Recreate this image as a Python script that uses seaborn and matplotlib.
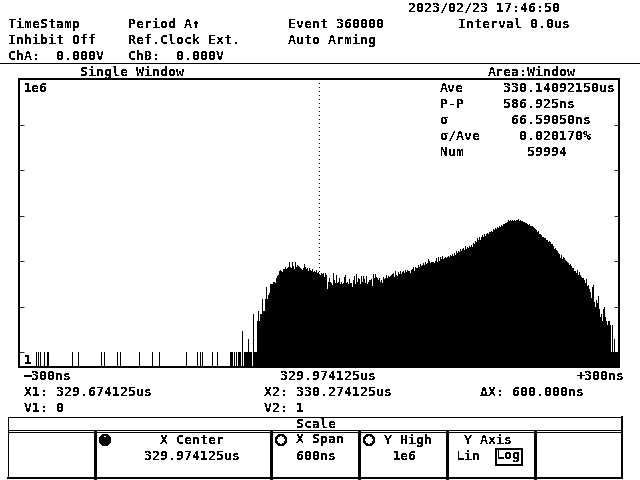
import numpy as np
import pandas as pd
import seaborn as sns
import matplotlib
matplotlib.use("Agg")
import matplotlib.pyplot as plt
from matplotlib.patches import Circle, Rectangle

# ------ histogram data, 1 ns bins, ns relative to the X center ------

sparse_ns = [-283, -281, -279, -275, -272, -271, -247, -241, -218, -215, -202, -199,
             -180, -167, -160, -133, -122, -119, -117, -107, -102, -89, -88, -87,
             -85, -83, -81, -80, -79, -77, -75, -74, -73, -72, -71, -70, -69, -68,
             -66, -65, -64, -63]
sparse_counts = [1, 1, 1, 1, 1, 1, 1, 1, 1, 1, 1, 1,
                 1, 1, 1, 1, 1, 1, 1, 1, 1, 1, 1, 1,
                 1, 1, 1, 1, 1, 3, 1, 1, 1, 1, 2, 1, 1, 1,
                 7, 1, 1, 1]

main_start_ns = -62
main_counts = [
    5, 8, 5, 7, 7, 15, 8, 8, 15, 27,
    15, 18, 20, 31, 31, 31, 36, 36, 33, 44,
    47, 50, 62, 65, 62, 58, 69, 69, 76, 69,
    72, 76, 98, 76, 72, 98, 80, 69, 98, 76,
    85, 80, 76, 72, 69, 65, 72, 89, 76, 69,
    72, 62, 72, 65, 62, 69, 58, 62, 58, 65,
    56, 58, 53, 50, 56, 53, 56, 46, 56, 50,
    25, 36, 42, 36, 33, 30, 56, 38, 33, 50,
    34, 36, 42, 32, 36, 31, 34, 46, 50, 33,
    36, 31, 40, 33, 34, 28, 38, 48, 32, 53,
    36, 44, 40, 31, 47, 36, 47, 40, 33, 47,
    32, 36, 38, 38, 40, 29, 53, 44, 53, 45,
    42, 38, 44, 36, 38, 34, 46, 40, 42, 50,
    44, 47, 46, 48, 50, 53, 56, 46, 62, 50,
    48, 58, 52, 62, 53, 58, 62, 55, 66, 58,
    65, 60, 62, 56, 66, 69, 76, 62, 74, 70,
    72, 85, 76, 89, 78, 84, 92, 85, 98, 89,
    92, 110, 100, 90, 98, 98, 96, 92, 100, 120,
    96, 125, 104, 125, 110, 128, 110, 118, 122, 116,
    122, 128, 126, 140, 132, 148, 134, 156, 140, 165,
    150, 172, 158, 190, 170, 185, 200, 180, 212, 190,
    205, 195, 215, 210, 225, 205, 255, 235, 280, 260,
    327, 290, 340, 300, 350, 380, 345, 390, 360, 395,
    410, 400, 440, 430, 470, 450, 515, 480, 540, 520,
    565, 545, 600, 580, 640, 610, 670, 650, 700, 680,
    740, 810, 760, 790, 780, 800, 770, 810, 780, 820,
    790, 850, 780, 810, 760, 780, 720, 730, 690, 680,
    660, 640, 650, 610, 590, 600, 560, 540, 510, 490,
    450, 460, 400, 390, 370, 350, 340, 320, 330, 290,
    300, 270, 280, 260, 240, 245, 220, 190, 200, 175,
    165, 155, 148, 120, 135, 115, 125, 118, 105, 100,
    96, 90, 85, 88, 80, 72, 70, 60, 62, 56,
    64, 50, 58, 50, 46, 43, 44, 38, 34, 40,
    29, 30, 25, 21, 16, 28, 30, 13, 10, 14,
    12, 17, 9, 6, 7, 5, 9, 10, 6, 5,
    4, 5, 5, 4, 1, 4, 1, 2, 1, 1, 1, 2,
]

y_ticks = [1, 10, 100, 1000, 10000, 100000, 1000000]

# ------ screen texts ------

header = [
    ("2023/02/23 17:46:50", 408, 7), ("TimeStamp", 8, 23), ("Period A↑", 128, 23),
    ("Event 360000", 288, 23), ("Interval 0.0us", 458, 23),
    ("Inhibit Off", 8, 39), ("Ref.Clock Ext.", 128, 39), ("Auto Arming", 288, 39),
    ("ChA:  0.000V", 8, 55), ("ChB:  0.000V", 128, 55),
    ("Single Window", 80, 71), ("Area:Window", 488, 71),
]
stats = [
    ("1e6", 24, 87), ("1", 24, 359),
    ("Ave", 440, 87), ("330.14092150us", 503, 87),
    ("P-P", 440, 103), ("586.925ns", 503, 103),
    ("σ", 440, 119), ("66.59050ns", 511, 119),
    ("σ/Ave", 440, 135), ("0.020170%", 519, 135),
    ("Num", 440, 151), ("59994", 527, 151),
]
footer = [
    ("−300ns", 24, 375), ("329.974125us", 280, 375), ("+300ns", 577, 375),
    ("X1: 329.674125us", 24, 391), ("X2: 330.274125us", 264, 391), ("ΔX: 600.000ns", 480, 391),
    ("V1: 0", 24, 407), ("V2: 1", 264, 407),
    ("Scale", 296, 424),
    ("X Center", 160, 439), ("329.974125us", 144, 455),
    ("X Span", 296, 439), ("600ns", 296, 455),
    ("Y High", 384, 439), ("1e6", 393, 455),
    ("Y Axis", 464, 439), ("Lin", 456, 455), ("Log", 497, 455),
]

sns.set_style("white")
plt.rcParams["font.family"] = ["DejaVu Sans Mono"]
plt.rcParams["text.antialiased"] = False
plt.rcParams["lines.antialiased"] = False
plt.rcParams["patch.antialiased"] = False

df = pd.DataFrame({
    "ns": np.concatenate([sparse_ns, main_start_ns + np.arange(len(main_counts))]) + 0.5,
    "n": np.concatenate([sparse_counts, main_counts]),
})

fig = plt.figure(figsize=(6.4, 4.8), dpi=100, facecolor="white")
px = 72 / 100  # one screen pixel in points

# plot window, 19..619 across and 79..367 down
ax = fig.add_axes([19 / 640, 1 - 367 / 480, 600 / 640, 288 / 480])
ax.axvline(0, color="black", lw=px, ls=(0, (1, 4)), zorder=0)
sns.histplot(data=df, x="ns", weights="n", bins=600, binrange=(-300, 300), color="black",
             alpha=1, linewidth=0, antialiased=False, zorder=2, ax=ax)
ax.set_yscale("log")
ax.set_xlim(-300, 300)
ax.set_ylim(0.48, 1e6)
ax.set_yticks(y_ticks)
ax.minorticks_off()
ax.set_xticks([])
ax.set_xlabel("")
ax.set_ylabel("")
ax.tick_params(axis="y", which="major", direction="in", left=True, right=True,
               length=5 * px, width=px, labelleft=False)
ax.spines["top"].set_linewidth(2 * px)
for side in ["left", "right", "bottom"]:
    ax.spines[side].set_visible(True)
    ax.spines[side].set_linewidth(2 * px)
    ax.spines[side].set_linestyle((0, (3.5, 0.7)))
    ax.spines[side].set_color("black")
ax.spines["top"].set_color("black")
ax.patch.set_alpha(0)

# everything around the plot window, in screen pixels
scr = fig.add_axes([0, 0, 1, 1], zorder=5)
scr.set_xlim(0, 640)
scr.set_ylim(480, 0)
scr.axis("off")
scr.patch.set_alpha(0)

for label, x, y in header + stats + footer:
    scr.text(x, y + 1, label, fontsize=9.57, fontweight="bold", color="black", ha="left", va="center")

scr.plot([0, 640], [62.5, 62.5], color="black", lw=px)

# Scale panel
scr.plot([8, 622], [417, 417], color="black", lw=px)
scr.plot([8, 622], [430, 430], color="black", lw=px)
scr.plot([8, 622], [432, 432], color="black", lw=px)
scr.plot([8, 622], [477.5, 477.5], color="black", lw=2 * px)
scr.plot([8, 8], [417, 478], color="black", lw=px)
scr.plot([622, 622], [417, 478], color="black", lw=2 * px)
for x in [95, 271, 359, 447, 535]:
    scr.plot([x, x], [432, 478], color="black", lw=3 * px)

for x, filled in [(105, True), (281, False), (369, False)]:
    scr.add_patch(Circle((x, 440), 5, facecolor="white", edgecolor="black", lw=px))
    if filled:
        scr.add_patch(Circle((x, 441), 3.5, facecolor="black", edgecolor="black", lw=px))

scr.add_patch(Rectangle((496, 449), 26, 16, fill=False, edgecolor="black", lw=2 * px))

fig.savefig("out.png", dpi=100)
